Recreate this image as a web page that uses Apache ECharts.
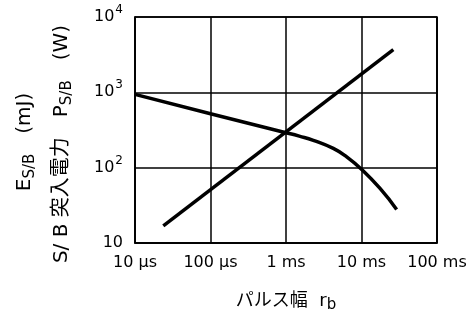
<!DOCTYPE html>
<html>
<head>
<meta charset="utf-8">
<script src="https://cdn.jsdelivr.net/npm/echarts@6/dist/echarts.min.js"></script>
<style>html,body{margin:0;padding:0;background:#fff}#c{width:471px;height:320px}</style>
</head>
<body>
<div id="c"></div>
<script>
// Pulse width (seconds) vs value
const xTickLabels = ['10 \u00b5s', '100 \u00b5s', '1 ms', '10 ms', '100 ms'];
const yTickLabels = ['10', '10{sup|2}', '10{sup|3}', '10{sup|4}'];

// Rising line: P_S/B (W)
const powerX = [2.37e-5, 2.64e-2];
const powerY = [16.9, 3680];

// Falling curve: E_S/B (mJ)
const energyX = [1e-5, 1e-4, 1e-3, 1.5e-3, 2.3e-3, 4.23e-3, 6.37e-3, 1.007e-2, 1.76e-2, 2.92e-2];
const energyY = [940, 519, 291, 262, 231, 180, 139, 94.6, 53, 27.9];

const FONT = '"DejaVu Sans", "Noto Sans CJK JP", sans-serif';

const chart = echarts.init(document.getElementById('c'), null, {renderer: 'canvas'});
chart.setOption({
  animation: false,
  backgroundColor: '#fff',
  grid: {left: 135, right: 34, top: 17, bottom: 77, show: true, borderColor: '#000', borderWidth: 1.5},
  xAxis: {
    type: 'log', logBase: 10, min: 1e-5, max: 0.1,
    axisLine: {show: true, lineStyle: {color: '#000', width: 1.5}},
    axisTick: {show: false},
    minorTick: {show: false},
    splitLine: {show: true, lineStyle: {color: '#000', width: 1.5}},
    axisLabel: {
      color: '#000', fontSize: 16, fontFamily: FONT, margin: 12,
      formatter: (v, i) => xTickLabels[i]
    },
    name: 'パルス幅  r{sub|b}',
    nameLocation: 'middle',
    nameGap: 47,
    nameTextStyle: {
      color: '#000', fontSize: 18, fontFamily: FONT,
      rich: {sub: {fontSize: 15, fontFamily: FONT, color: '#000', padding: [8, 0, 0, 0]}}
    }
  },
  yAxis: {
    type: 'log', logBase: 10, min: 10, max: 10000,
    axisLine: {show: true, lineStyle: {color: '#000', width: 1.5}},
    axisTick: {show: false},
    minorTick: {show: false},
    splitLine: {show: true, lineStyle: {color: '#000', width: 1.5}},
    axisLabel: {
      color: '#000', fontSize: 16, fontFamily: FONT, margin: 12,
      formatter: (v, i) => yTickLabels[i],
      rich: {sup: {fontSize: 12, fontFamily: FONT, color: '#000', padding: [0, 0, 14, 1]}}
    }
  },
  graphic: [
    {
      type: 'text', x: 25, y: 142, rotation: Math.PI / 2,
      style: {
        text: 'E{sub|S/B}\u3000(mJ)', fill: '#000', fontSize: 20, fontFamily: FONT,
        align: 'center', verticalAlign: 'middle',
        rich: {sub: {fontSize: 15, fontFamily: FONT, fill: '#000', padding: [10, 0, 0, 0]}}
      }
    },
    {
      type: 'text', x: 62, y: 144, rotation: Math.PI / 2,
      style: {
        text: 'S/ B 突入電力\u3000P{sub|S/B}\u3000(W)', fill: '#000', fontSize: 20, fontFamily: FONT,
        align: 'center', verticalAlign: 'middle',
        rich: {sub: {fontSize: 15, fontFamily: FONT, fill: '#000', padding: [10, 0, 0, 0]}}
      }
    }
  ],
  series: [
    {
      type: 'line', name: 'P', showSymbol: false, symbol: 'none',
      data: powerX.map((x, i) => [x, powerY[i]]),
      lineStyle: {color: '#000', width: 3.5}
    },
    {
      type: 'line', name: 'E', showSymbol: false, symbol: 'none', smooth: 0.5,
      data: energyX.map((x, i) => [x, energyY[i]]),
      lineStyle: {color: '#000', width: 3.5}
    }
  ]
});
</script>
</body>
</html>
